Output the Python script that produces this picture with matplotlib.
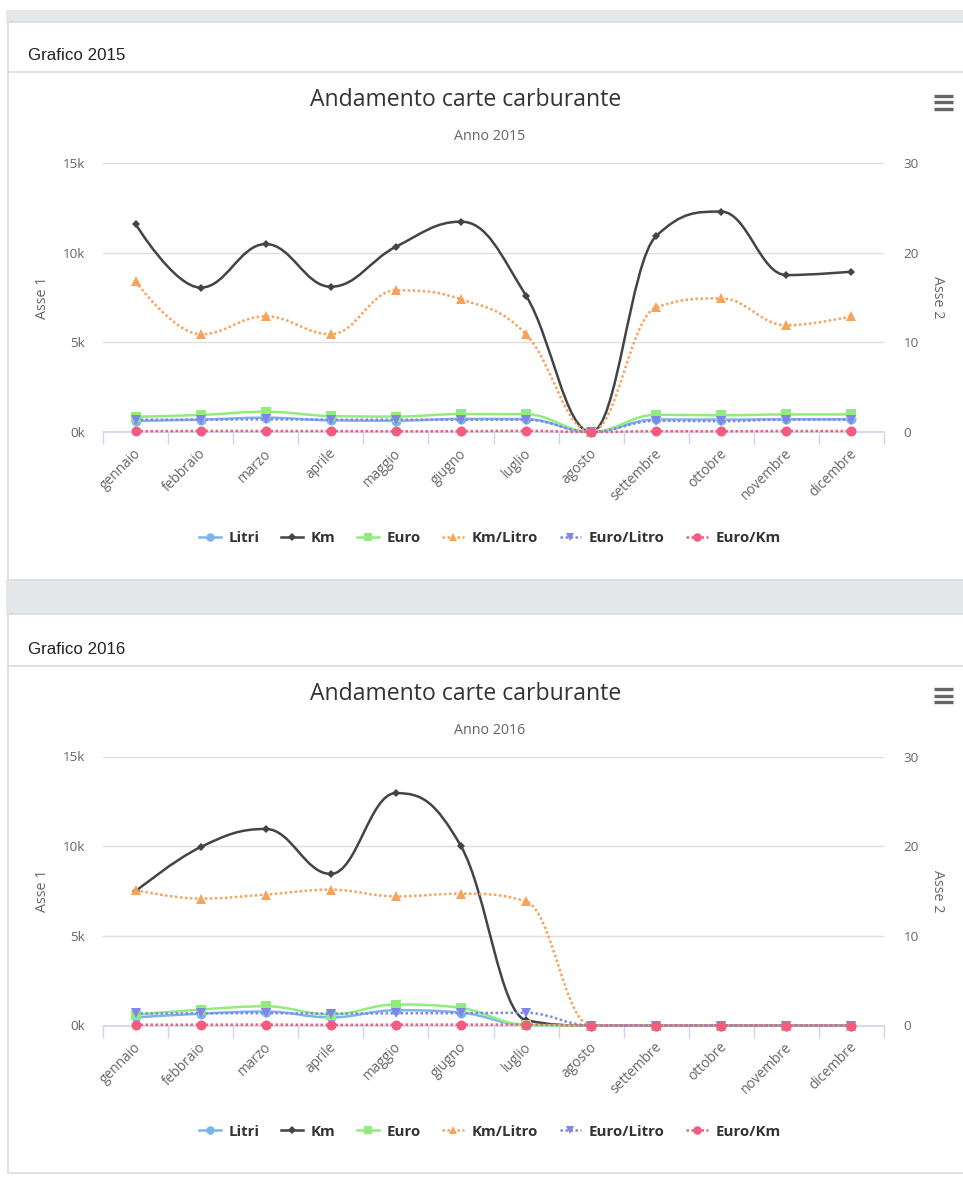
import numpy as np
import matplotlib
matplotlib.use("Agg")
import matplotlib.pyplot as plt
from matplotlib.path import Path
from matplotlib.patches import PathPatch, Rectangle
from matplotlib.lines import Line2D
from matplotlib.transforms import ScaledTranslation
from matplotlib.ticker import FuncFormatter

# ---------------- data ----------------
months = ["gennaio", "febbraio", "marzo", "aprile", "maggio", "giugno",
          "luglio", "agosto", "settembre", "ottobre", "novembre", "dicembre"]
series_names = ["Litri", "Km", "Euro", "Km/Litro", "Euro/Litro", "Euro/Km"]

litri_2015 = [620, 690, 800, 650, 630, 730, 720, 0, 700, 690, 710, 710]
km_2015 = [11600, 8050, 10480, 8100, 10330, 11730, 7600, 0, 10930, 12290, 8750, 8940]
euro_2015 = [850, 950, 1130, 890, 860, 1000, 990, 0, 960, 930, 980, 980]
kml_2015 = [16.8, 10.9, 12.9, 10.9, 15.8, 14.8, 10.9, 0, 13.9, 14.9, 11.9, 12.9]
eurol_2015 = [1.37, 1.38, 1.41, 1.37, 1.37, 1.37, 1.38, 0, 1.25, 1.2, 1.38, 1.38]
eurokm_2015 = [0.07, 0.12, 0.11, 0.11, 0.08, 0.09, 0.13, 0, 0.09, 0.08, 0.11, 0.11]

litri_2016 = [450, 660, 780, 450, 850, 720, 20, 0, 0, 0, 0, 0]
km_2016 = [7480, 9950, 10960, 8450, 12960, 10000, 300, 0, 0, 0, 0, 0]
euro_2016 = [600, 890, 1070, 610, 1170, 980, 30, 0, 0, 0, 0, 0]
kml_2016 = [15.1, 14.15, 14.6, 15.15, 14.4, 14.7, 13.85, 0, 0, 0, 0, 0]
eurol_2016 = [1.34, 1.35, 1.38, 1.33, 1.36, 1.38, 1.42, 0, 0, 0, 0, 0]
eurokm_2016 = [0.08, 0.09, 0.1, 0.07, 0.09, 0.1, 0.1, 0, 0, 0, 0, 0]

left_ticks = [0, 5000, 10000, 15000]
right_ticks = [0, 10, 20, 30]

# ---------------- style ----------------
colors = ["#7cb5ec", "#434348", "#90ed7d", "#f7a35c", "#8085e9", "#f15c80"]
markers = ["o", "D", "s", "^", "v", "o"]
msizes = [7.2, 4.4, 6.8, 7.4, 7.4, 7.2]
dotted = [False, False, False, True, True, True]
on_right = [False, False, False, True, True, True]

FONT = "Open Sans"
W, H = 963, 1177
fig = plt.figure(figsize=(W / 100, H / 100), dpi=100)
fig.patch.set_facecolor("white")

bg = fig.add_axes([0, 0, 1, 1])
bg.set_xlim(0, W)
bg.set_ylim(H, 0)
bg.axis("off")

gray = "#e5e8eb"
border = "#d9dcdf"
bg.add_patch(Rectangle((6, 10), W - 6, 12, facecolor=gray, edgecolor="none"))
bg.add_patch(Rectangle((6, 580), W - 6, 34, facecolor=gray, edgecolor="none"))
for (y0, y1) in [(22, 580), (614, 1173)]:
    bg.add_patch(Rectangle((8, y0), W - 8 + 5, y1 - y0, facecolor="white",
                           edgecolor=border, lw=1.2))


def spline_path(xs, ys, smoothing=1.5):
    n = len(xs)
    denom = smoothing + 1
    lc = [(xs[i], ys[i]) for i in range(n)]
    rc = [(xs[i], ys[i]) for i in range(n)]
    for i in range(1, n - 1):
        px, py = xs[i], ys[i]
        lx, ly = xs[i - 1], ys[i - 1]
        nx, ny = xs[i + 1], ys[i + 1]
        lcx = (smoothing * px + lx) / denom
        lcy = (smoothing * py + ly) / denom
        rcx = (smoothing * px + nx) / denom
        rcy = (smoothing * py + ny) / denom
        if rcx != lcx:
            corr = ((rcy - lcy) * (rcx - px)) / (rcx - lcx) + py - rcy
            lcy += corr
            rcy += corr
        if lcy > ly and lcy > py:
            lcy = max(ly, py); rcy = 2 * py - lcy
        elif lcy < ly and lcy < py:
            lcy = min(ly, py); rcy = 2 * py - lcy
        if rcy > ny and rcy > py:
            rcy = max(ny, py); lcy = 2 * py - rcy
        elif rcy < ny and rcy < py:
            rcy = min(ny, py); lcy = 2 * py - rcy
        lc[i] = (lcx, lcy)
        rc[i] = (rcx, rcy)
    verts = [(xs[0], ys[0])]
    codes = [Path.MOVETO]
    for i in range(1, n):
        verts += [rc[i - 1], lc[i], (xs[i], ys[i])]
        codes += [Path.CURVE4] * 3
    return Path(verts, codes)


def draw_chart(off, year, data):
    top, bottom = 163 + off, 432 + off
    left, right = 103, 884
    rect = [left / W, 1 - bottom / H, (right - left) / W, (bottom - top) / H]
    ax = fig.add_axes(rect)
    ax2 = ax.twinx()
    for a in (ax, ax2):
        a.set_facecolor("none")
        for s in a.spines.values():
            s.set_visible(False)
    ax.set_xlim(-0.5, len(months) - 0.5)
    ax.set_ylim(left_ticks[0], left_ticks[-1])
    ax2.set_ylim(right_ticks[0], right_ticks[-1])
    ax.set_yticks(left_ticks)
    ax2.set_yticks(right_ticks)
    ax.yaxis.set_major_formatter(FuncFormatter(lambda v, p: f"{int(v/1000)}k"))
    ax.grid(axis="y", color="#dedede", lw=1.0)
    ax.set_axisbelow(True)
    ax.tick_params(axis="y", length=0, pad=13, labelsize=9.7, labelcolor="#666666")
    ax2.tick_params(axis="y", length=0, pad=14, labelsize=9.7, labelcolor="#666666")
    for lab in ax.get_yticklabels() + ax2.get_yticklabels():
        lab.set_fontfamily(FONT)
    ax.spines["bottom"].set_visible(True)
    ax.spines["bottom"].set_color("#ccd6eb")
    ax.spines["bottom"].set_linewidth(1.2)
    ax.set_xticks(range(len(months)))
    ax.set_xticklabels(months, rotation=45, ha="right", va="center",
                       rotation_mode="anchor", fontsize=9.9, color="#666666",
                       fontfamily=FONT)
    ax.set_xticks(np.arange(len(months) + 1) - 0.5, minor=True)
    ax.tick_params(axis="x", which="major", length=0, pad=14)
    ax.tick_params(axis="x", which="minor", length=8.6, width=1.0, color="#ccd6eb")
    for lab in ax.get_xticklabels():
        lab.set_transform(lab.get_transform() + ScaledTranslation(3 / 100, 0, fig.dpi_scale_trans))

    xs = list(range(len(months)))
    for k, vals in enumerate(data):
        a = ax2 if on_right[k] else ax
        path = spline_path(xs, vals)
        ls = (0, (1, 1)) if dotted[k] else "-"
        patch = PathPatch(path, fill=False, edgecolor=colors[k], lw=1.8,
                          linestyle=ls, capstyle="butt", joinstyle="round",
                          clip_on=False, zorder=2 + k)
        a.add_patch(patch)
        a.plot(xs, vals, linestyle="none", marker=markers[k], ms=msizes[k],
               color=colors[k], markeredgewidth=0, clip_on=False, zorder=3 + k)

    # texts
    bg.text(28, 60 + off, f"Grafico {year}", fontsize=12.2, color="#222222",
            fontfamily="Liberation Sans", ha="left", va="baseline")
    bg.plot([8, W], [72 + off, 72 + off], color=border, lw=1.2)
    bg.text(465.5, 106 + off, "Andamento carte carburante", fontsize=16.6,
            color="#333333", fontfamily=FONT, ha="center", va="baseline")
    bg.text(490, 140.5 + off, f"Anno {year}", fontsize=10.3, color="#666666",
            fontfamily=FONT, ha="center", va="baseline")
    bg.text(42, 297.5 + off, "Asse 1", rotation=90, fontsize=10.3, color="#666666",
            fontfamily=FONT, ha="center", va="center")
    bg.text(938, 297.5 + off, "Asse 2", rotation=270, fontsize=10.3, color="#666666",
            fontfamily=FONT, ha="center", va="center")
    for yy in (95.5, 102, 108.5):
        bg.plot([934, 953], [yy + off, yy + off], color="#666666", lw=2.4,
                solid_capstyle="butt")

    handles = []
    for k in range(len(series_names)):
        handles.append(Line2D([0], [0], color=colors[k], lw=1.8,
                              linestyle=(0, (1, 1)) if dotted[k] else "-",
                              marker=markers[k], ms=msizes[k] * 0.85,
                              markeredgewidth=0))
    leg = fig.legend(handles, series_names, loc="center",
                     bbox_to_anchor=(490 / W, 1 - (538 + off) / H), ncol=6,
                     frameon=False, handlelength=1.45, handletextpad=0.5,
                     columnspacing=1.45,
                     prop={"family": FONT, "weight": "bold", "size": 10.8})
    for t in leg.get_texts():
        t.set_color("#333333")


data_2015 = [litri_2015, km_2015, euro_2015, kml_2015, eurol_2015, eurokm_2015]
data_2016 = [litri_2016, km_2016, euro_2016, kml_2016, eurol_2016, eurokm_2016]
draw_chart(0, 2015, data_2015)
draw_chart(593.5, 2016, data_2016)

fig.savefig("out.png", dpi=100, facecolor="white")
